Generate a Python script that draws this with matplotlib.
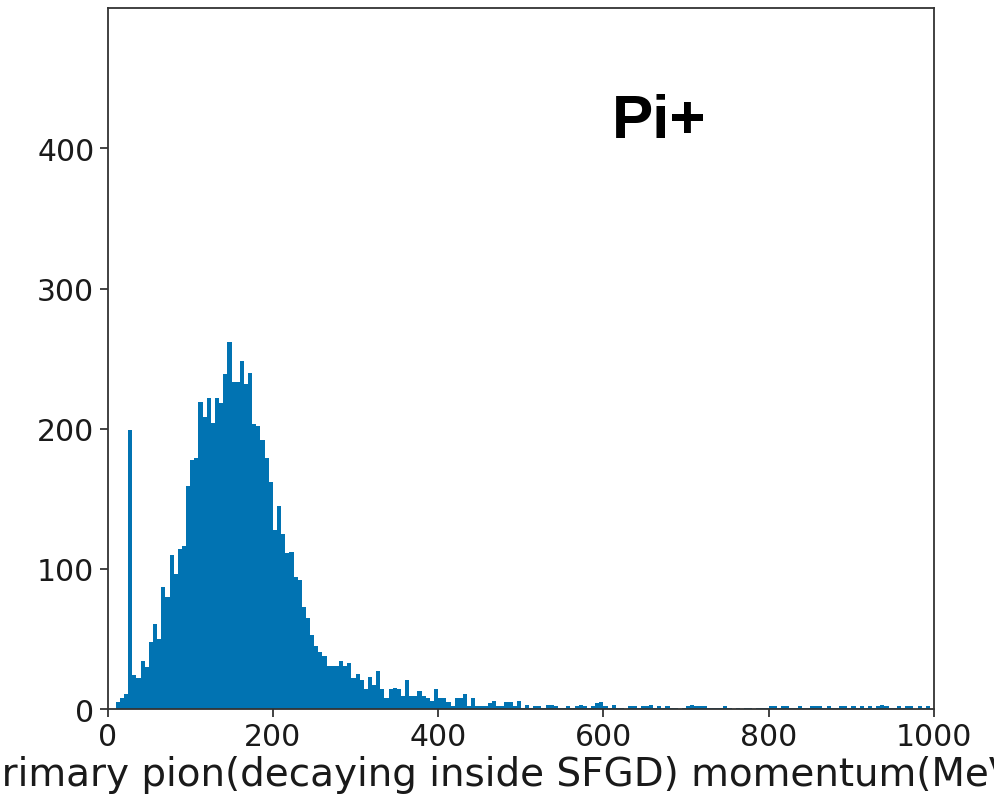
import numpy as np
import matplotlib
matplotlib.use("Agg")
import matplotlib.pyplot as plt

# Histogram: 200 bins of width 5 MeV/c from 0 to 1000
bin_edges = np.linspace(0, 1000, 201)

counts_0_250 = [0, 0, 5, 8, 11, 199, 24, 22, 34, 30,
                48, 61, 50, 87, 80, 110, 96, 114, 116, 159,
                178, 179, 219, 208, 222, 204, 222, 218, 239, 262,
                233, 233, 248, 232, 240, 203, 202, 192, 179, 162,
                128, 145, 125, 111, 112, 94, 92, 73, 65, 53]
counts_250_500 = [45, 41, 38, 31, 31, 31, 34, 31, 33, 22,
                  25, 21, 14, 23, 17, 27, 14, 8, 14, 15,
                  14, 9, 21, 9, 9, 13, 9, 8, 6, 14,
                  8, 8, 5, 2, 8, 8, 11, 2, 8, 2,
                  2, 2, 4, 6, 2, 2, 5, 5, 2, 6]
counts_500_750 = [1, 3, 1, 2, 2, 1, 3, 3, 2, 1,
                  1, 2, 1, 2, 3, 2, 1, 2, 4, 5,
                  2, 1, 3, 1, 1, 0, 2, 2, 1, 2,
                  2, 3, 1, 2, 1, 2, 1, 1, 0, 1,
                  2, 3, 2, 2, 2, 1, 1, 1, 1, 2]
counts_750_1000 = [1, 0, 1, 0, 1, 1, 0, 1, 1, 1,
                   2, 2, 1, 2, 2, 1, 1, 2, 1, 1,
                   2, 2, 2, 1, 2, 1, 1, 2, 2, 1,
                   2, 1, 2, 1, 2, 1, 2, 3, 2, 1,
                   1, 2, 1, 2, 2, 0, 2, 1, 2, 0]

counts = np.array(counts_0_250 + counts_250_500 + counts_500_750 + counts_750_1000, dtype=float)
centers = 0.5 * (bin_edges[:-1] + bin_edges[1:])

x_label = "primary pion(decaying inside SFGD) momentum(MeV/c)"
annotation = "Pi+"
x_ticks = [0, 200, 400, 600, 800, 1000]
y_ticks = [0, 100, 200, 300, 400]

fig = plt.figure(figsize=(9.94, 8.03), dpi=100)
ax = fig.add_axes([0.1082, 0.1158, 0.9397 - 0.1082, 0.9885 - 0.1158])

ax.hist(centers, bins=bin_edges, weights=counts, color="#0173b2", linewidth=0)

ax.set_xlim(0, 1000)
ax.set_ylim(0, 500)
ax.set_xticks(x_ticks)
ax.set_yticks(y_ticks)
ax.tick_params(labelsize=21.5, length=6, width=1.2, colors="#222222", labelcolor="#1a1a1a")
for s in ax.spines.values():
    s.set_linewidth(1.3)
    s.set_color("#333333")

ax.set_xlabel(x_label, fontsize=28, color="#1a1a1a", labelpad=3)
ax.text(610, 408, annotation, fontsize=44.5, fontweight="bold",
        family=["Liberation Sans", "DejaVu Sans"], ha="left", va="baseline", color="black")

fig.savefig("out.png", dpi=100)
